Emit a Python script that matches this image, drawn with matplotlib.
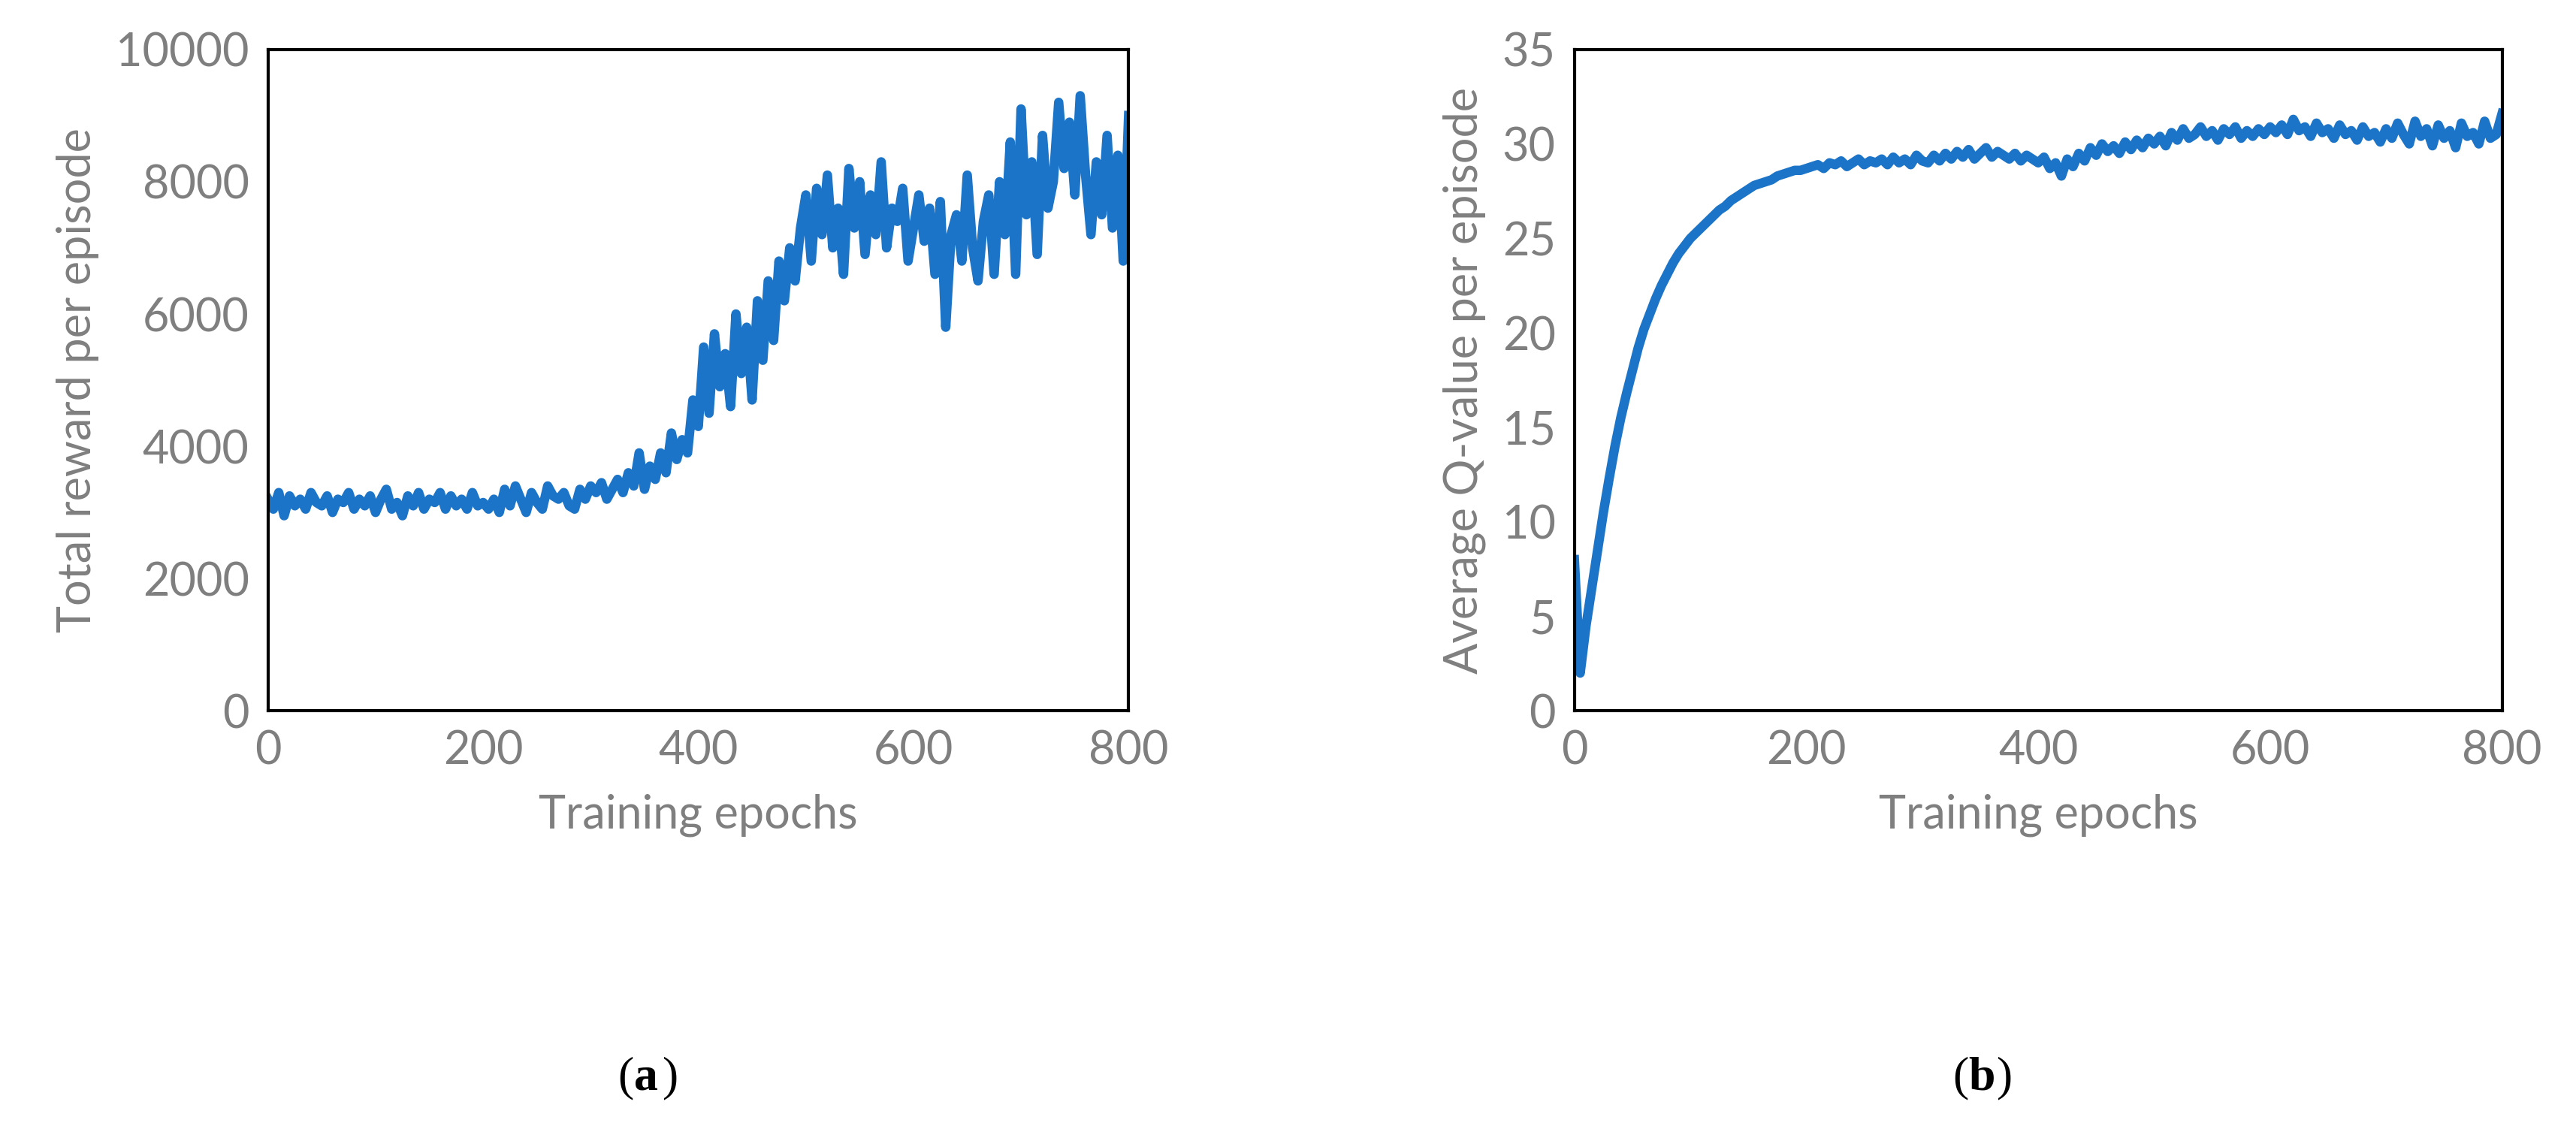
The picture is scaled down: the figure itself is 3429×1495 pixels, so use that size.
import matplotlib
matplotlib.use("Agg")
import matplotlib.pyplot as plt
import numpy as np

EPOCHS = np.arange(0, 805, 5)
REWARD = [
    3200, 3050, 3300, 2950, 3250, 3100, 3200, 3050, 3300, 3150, 3100, 3250, 3000, 3200, 3150, 3300, 3050, 3200, 3100, 3250, 3000,
    3200, 3350, 3050, 3150, 2950, 3250, 3100, 3300, 3050, 3200, 3150, 3300, 3050, 3250, 3100, 3200, 3050, 3300, 3100, 3150,
    3050, 3200, 3000, 3350, 3100, 3400, 3200, 3000, 3300, 3150, 3050, 3400, 3250, 3200, 3300, 3100, 3050, 3350, 3200, 3400,
    3300, 3450, 3200, 3350, 3500, 3300, 3600, 3400, 3900, 3350, 3700, 3500, 3900, 3600, 4200, 3800, 4100, 3900, 4700, 4300,
    5500, 4500, 5700, 4900, 5400, 4600, 6000, 5100, 5800, 4700, 6200, 5300, 6500, 5600, 6800, 6200, 7000, 6500, 7300, 7800,
    6800, 7900, 7200, 8100, 7000, 7600, 6600, 8200, 7300, 8000, 6900, 7800, 7200, 8300, 7000, 7600, 7400, 7900, 6800, 7300,
    7800, 7100, 7600, 6600, 7700, 5800, 7200, 7500, 6800, 8100, 7000, 6500, 7400, 7800, 6600, 8000, 7200, 8600, 6600, 9100,
    7500, 8300, 6900, 8700, 7600, 8000, 9200, 8200, 8900, 7800, 9300, 8100, 7200, 8300, 7500, 8700, 7300, 8400, 6800, 9000,
]
QVALUE = [
    8.0, 2.0, 4.5, 6.5, 8.5, 10.5, 12.3, 14.0, 15.5, 16.8, 18.0, 19.2, 20.2, 21.0, 21.8, 22.5, 23.1, 23.7, 24.2, 24.6, 25.0,
    25.3, 25.6, 25.9, 26.2, 26.5, 26.7, 27.0, 27.2, 27.4, 27.6, 27.8, 27.9, 28.0, 28.1, 28.3, 28.4, 28.5, 28.6, 28.6, 28.7,
    28.8, 28.9, 28.7, 29.0, 28.9, 29.1, 28.8, 29.0, 29.2, 28.9, 29.1, 29.0, 29.2, 28.9, 29.3, 29.0, 29.2, 28.9, 29.4, 29.1,
    29.0, 29.4, 29.1, 29.5, 29.2, 29.6, 29.3, 29.7, 29.2, 29.5, 29.8, 29.3, 29.6, 29.4, 29.2, 29.5, 29.1, 29.4, 29.2, 29.0,
    29.3, 28.7, 29.0, 28.3, 29.2, 28.8, 29.5, 29.1, 29.8, 29.4, 30.0, 29.6, 29.9, 29.5, 30.1, 29.7, 30.2, 29.8, 30.3, 30.0,
    30.4, 29.9, 30.6, 30.2, 30.8, 30.3, 30.5, 30.9, 30.4, 30.7, 30.2, 30.8, 30.5, 30.9, 30.3, 30.7, 30.4, 30.8, 30.5, 30.9,
    30.6, 31.0, 30.5, 31.3, 30.7, 30.9, 30.4, 31.1, 30.6, 30.8, 30.3, 31.0, 30.5, 30.7, 30.2, 30.9, 30.4, 30.6, 30.1, 30.8,
    30.3, 31.1, 30.5, 30.0, 31.2, 30.4, 30.8, 29.9, 31.0, 30.3, 30.7, 29.8, 31.1, 30.4, 30.6, 30.0, 31.2, 30.3, 30.5, 31.6,
]

AZUL = "#1b74c8"
CINZA = "#7f7f7f"
plt.rcParams.update({"font.family": ["Lato", "DejaVu Sans"]})

fig = plt.figure(figsize=(34.3, 14.95), dpi=100)
ax1 = fig.add_axes([0.104, 0.367, 0.334, 0.589])
ax2 = fig.add_axes([0.611, 0.367, 0.36, 0.589])

paineis = [
    (ax1, REWARD, "Total reward per episode", (0, 10000), np.arange(0, 10001, 2000), "(a)", 0.246),
    (ax2, QVALUE, "Average Q-value per episode", (0, 35), np.arange(0, 36, 5), "(b)", 0.764),
]
for ax, serie, ylab, ylim, yt, letra, xl in paineis:
    ax.plot(EPOCHS, serie, color=AZUL, lw=9, solid_joinstyle="round")
    ax.set_xlim(0, 800)
    ax.set_ylim(*ylim)
    ax.set_xticks([0, 200, 400, 600, 800])
    ax.set_yticks(yt)
    ax.tick_params(length=0, labelsize=44, labelcolor=CINZA, pad=18)
    for s in ax.spines.values():
        s.set_color("black")
        s.set_linewidth(3)
    ax.set_xlabel("Training epochs", fontsize=44, color=CINZA, labelpad=20)
    ax.set_ylabel(ylab, fontsize=44, color=CINZA, labelpad=16)
    fig.text(xl, 0.04, "(", fontsize=46, family="Liberation Serif", ha="right", va="center")
    fig.text(xl, 0.04, letra[1], fontsize=46, family="Liberation Serif", fontweight="bold", ha="left", va="center")
    fig.text(xl + 0.011, 0.04, ")", fontsize=46, family="Liberation Serif", ha="left", va="center")

fig.savefig("out.png", dpi=100, facecolor="white")
